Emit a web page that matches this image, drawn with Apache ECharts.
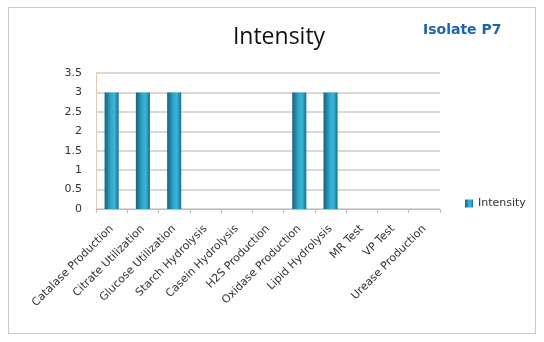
<!DOCTYPE html>
<html>
<head>
<meta charset="utf-8">
<script src="https://cdn.jsdelivr.net/npm/echarts@6/dist/echarts.min.js"></script>
<style>
  html, body { margin: 0; padding: 0; background: #fff; }
  #frame { position: absolute; left: 8px; top: 7px; width: 528px; height: 327px; border: 1px solid #c9c9c9; box-sizing: border-box; }
  #chart { position: absolute; left: 0; top: 0; width: 544px; height: 342px; }
</style>
</head>
<body>
<div id="frame"></div>
<div id="chart"></div>
<script>
// Biochemical test results for one isolate
const tests = [
  'Catalase Production', 'Citrate Utilization', 'Glucose Utilization',
  'Starch Hydrolysis', 'Casein Hydrolysis', 'H2S Production',
  'Oxidase Production', 'Lipid Hydrolysis', 'MR Test', 'VP Test',
  'Urease Production'
];
const intensity = [3, 3, 3, 0, 0, 0, 3, 3, 0, 0, 0];
const yTicks = { min: 0, max: 3.5, interval: 0.5 };

const chart = echarts.init(document.getElementById('chart'));

const barFill = new echarts.graphic.LinearGradient(0, 0, 1, 0, [
  { offset: 0, color: '#17607c' },
  { offset: 0.45, color: '#2fa8cc' },
  { offset: 0.7, color: '#39b5d8' },
  { offset: 1, color: '#1a6e8c' }
]);

chart.setOption({
  animation: false,
  textStyle: { fontFamily: 'DejaVu Sans, sans-serif' },
  title: [
    {
      text: 'Intensity', left: 274, top: 21, textAlign: 'center',
      textStyle: { fontSize: 23, fontWeight: 'normal', color: '#111', fontFamily: 'Open Sans' }
    },
    {
      text: 'Isolate P7', left: 418, top: 18,
      textStyle: { fontSize: 14, fontWeight: 'bold', color: '#1d63b5', fontFamily: 'DejaVu Sans' }
    }
  ],
  legend: {
    data: ['Intensity'], left: 460, top: 193, orient: 'vertical',
    icon: 'rect', itemWidth: 8, itemHeight: 8, itemGap: 4,
    textStyle: { fontSize: 11, color: '#333', fontFamily: 'DejaVu Sans' }
  },
  grid: { left: 96, right: 104, top: 73, bottom: 133 },
  xAxis: {
    type: 'category', data: tests,
    axisLine: { lineStyle: { color: '#bdbdbd' } },
    axisTick: { show: true, alignWithLabel: false, length: 4, lineStyle: { color: '#bdbdbd' } },
    axisLabel: { interval: 0, rotate: 45, fontSize: 11, color: '#333', margin: 18, fontFamily: 'DejaVu Sans' }
  },
  yAxis: {
    type: 'value', min: yTicks.min, max: yTicks.max, interval: yTicks.interval,
    axisLine: { show: true, lineStyle: { color: '#e7c8b0' } },
    axisTick: { show: false },
    axisLabel: { fontSize: 11, color: '#333', margin: 14, fontFamily: 'DejaVu Sans' },
    splitLine: { lineStyle: { color: '#cccccc', width: 1.5 } }
  },
  series: [{
    name: 'Intensity', type: 'bar', data: intensity,
    barWidth: '45%',
    itemStyle: { color: barFill }
  }]
});
</script>
</body>
</html>
